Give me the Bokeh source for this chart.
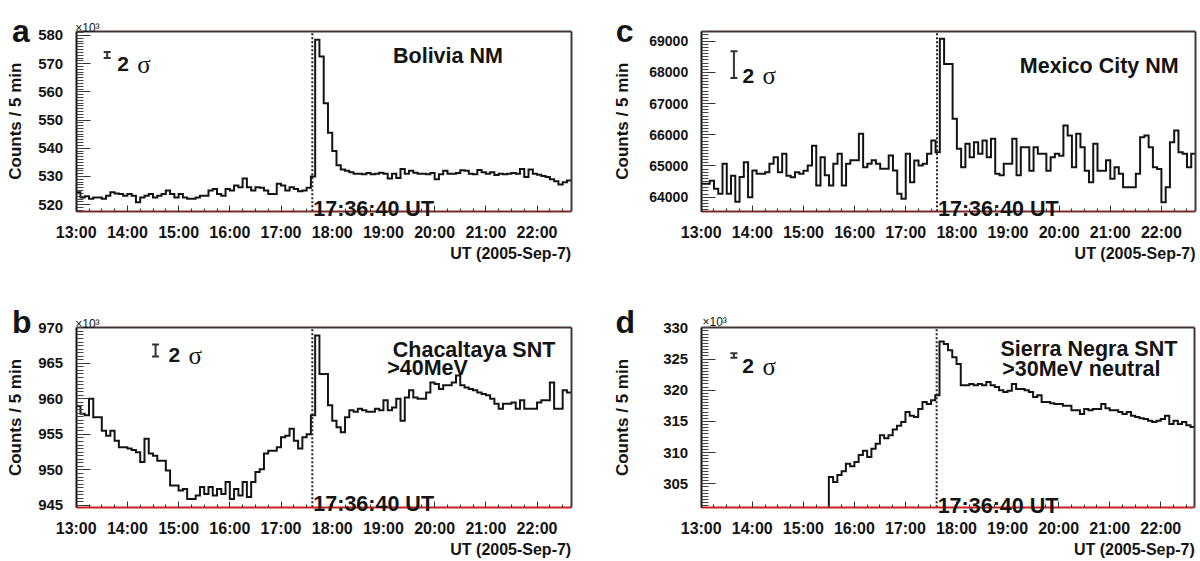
import numpy as np
from bokeh.plotting import figure
from bokeh.layouts import gridplot
from bokeh.models import (FixedTicker, Label, Whisker, ColumnDataSource,
                          TeeHead, LinearAxis, Range1d)
from bokeh.embed import file_html
from bokeh.resources import INLINE

# ---------------- data ----------------
t_start = 13.0                 # 13:00 UT
t_end = 22 + 40 / 60           # 22:40 UT
bin_minutes = 5
onset = 17 + 36 / 60 + 40 / 3600   # 17:36:40 UT

hour_ticks = list(range(13, 23))
hour_labels = ["13:00", "14:00", "15:00", "16:00", "17:00",
               "18:00", "19:00", "20:00", "21:00", "22:00"]
quarter_ticks = [13 + 0.25 * i for i in range(39)]

# Bolivia NM, counts / 5 min (x10^3)
bolivia = [
    524.4, 522.6, 523.0, 522.1, 522.6, 522.6, 522.1, 523.2, 524.4, 524.0, 523.8, 523.2,
    523.8, 523.2, 520.9, 522.6, 523.2, 523.8, 522.6, 523.2, 523.8, 525.0, 523.8, 522.6,
    523.8, 522.6, 522.1, 522.1, 522.6, 523.2, 523.2, 525.0, 525.6, 523.8, 523.2, 525.6,
    525.0, 526.8, 526.2, 529.3, 526.2, 525.0, 526.2, 526.0, 525.0, 523.8, 523.8, 527.4,
    526.8, 525.0, 526.2, 525.6, 524.8, 525.0, 526.0, 530.0,
    578.5, 572.5, 556.0, 545.5,
    539.0, 534.0, 532.5, 532.0, 531.5, 531.0, 531.0, 530.8, 531.2, 530.8, 531.0, 531.3,
    531.0, 529.3, 531.0, 529.5, 532.7, 531.0, 532.0, 531.3, 531.0, 531.0, 530.8, 531.2,
    529.0, 530.8, 532.0, 531.0, 531.0, 531.2, 532.2, 532.0, 531.0, 530.8, 532.3, 531.5,
    531.0, 531.5, 530.5, 531.0, 530.8, 531.0, 531.2, 531.0, 532.7, 529.8, 532.5, 531.0,
    530.6, 530.2, 529.8, 529.0, 528.3, 527.2, 528.0, 528.6,
]

# Mexico City NM, counts / 5 min
mexico = [
    64430, 64430, 64530, 64270, 64110, 65070, 64110, 64690, 63850, 64650, 65120, 64000,
    64855, 64750, 64750, 64800, 65070, 65280, 64800, 65390, 64690, 64640, 64800, 64750,
    64850, 65015, 65650, 64370, 65280, 64700, 64370, 65070, 65390, 64370, 65070, 65180,
    65180, 66030, 64960, 65070, 65180, 65070, 64910, 64910, 65335, 64855, 64107, 63947,
    65389, 64481, 65175, 65015, 65068, 65389, 65816, 65442,
    69075, 68270, 68270, 66510, 65550, 64960, 65710, 65280, 65760, 65390, 65820, 65280,
    65870, 64750, 64700, 65070, 65070, 65870, 64700, 65600, 65600, 64850, 65600, 65390,
    65390, 64850, 65280, 65390, 65330, 66300, 65980, 64960, 66030, 65600, 64850, 64480,
    65710, 64850, 64850, 65180, 64590, 64960, 64750, 64320, 64320, 64320, 64750, 65920,
    65980, 65600, 64960, 64900, 63840, 64320, 65760, 66140, 65440, 65390, 64960, 65390,
]

# Chacaltaya SNT >40 MeV, counts / 5 min (x10^3)
chacaltaya = [
    959.0, 957.9, 957.7, 960.0, 957.4, 957.4, 955.5, 954.8, 955.5, 954.1, 953.2, 953.2,
    953.0, 952.8, 952.5, 951.1, 954.4, 952.3, 952.0, 951.3, 951.3, 949.9, 947.8, 947.8,
    947.1, 947.3, 945.9, 945.9, 946.4, 947.6, 946.6, 947.6, 946.4, 947.3, 946.6, 948.3,
    945.9, 947.3, 946.4, 948.3, 946.2, 948.3, 949.7, 950.1, 952.3, 952.7, 952.7, 953.2,
    954.6, 954.8, 955.8, 954.1, 953.0, 954.6, 955.0, 957.7,
    968.9, 963.5, 963.5, 959.1, 956.9, 956.0, 955.3, 957.4, 958.4, 958.2, 958.6, 958.4,
    958.2, 958.2, 958.6, 958.4, 959.8, 958.4, 958.8, 960.0, 956.9, 960.2, 961.2, 960.2,
    960.0, 960.0, 960.9, 962.3, 962.1, 961.4, 961.9, 961.9, 962.3, 963.3, 961.9, 961.6,
    961.4, 961.2, 960.9, 960.7, 960.5, 960.0, 959.3, 958.6, 959.3, 959.3, 959.5, 958.6,
    959.8, 958.6, 958.6, 958.6, 959.5, 959.8, 959.8, 962.3, 958.6, 958.6, 961.2, 960.9,
]

# Sierra Negra SNT >30 MeV neutral, counts / 5 min (x10^3); empty bins before 15:30
sierra = [0.0] * 30 + [
    306.1, 305.3, 306.4, 307.0, 308.2, 307.8, 308.5, 309.6, 310.3, 309.3, 310.6, 311.4,
    312.8, 312.3, 312.8, 313.7, 314.3, 314.9, 316.5, 315.9, 315.7, 317.0, 318.1, 317.8,
    318.4, 319.2,
    327.8, 327.4, 326.4, 325.3, 324.2,
    320.8, 320.8, 321.0, 320.8, 321.0, 320.8, 321.3, 320.8, 320.5, 320.0, 319.7, 319.9,
    321.0, 320.2, 320.2, 320.0, 319.7, 318.9, 319.2, 318.1, 318.1, 317.9, 317.8, 317.8,
    317.5, 317.5, 316.8, 316.8, 316.2, 317.0, 316.8, 317.0, 317.0, 317.8, 317.1, 316.8,
    316.8, 316.5, 316.2, 316.5, 315.9, 315.7, 315.5, 315.4, 315.1, 314.9, 315.1, 315.4,
    315.9, 314.6, 315.1, 314.6, 314.9, 314.4, 314.1,
]

# 2-sigma error-bar markers: (time in h, centre, half-length) in data units
sigma_bolivia = (13.605, 573.1, 1.06)
sigma_mexico = (13.64, 68250.0, 427.0)
sigma_chacaltaya = (14.55, 966.8, 0.85)
sigma_sierra = (13.64, 325.56, 0.37)

FONT = "Liberation Sans"
SERIF = "Liberation Serif"
INK = "#141414"
BROWN = "#7a2c2c"
RED = "#cc1f1f"
FRAME = "#463434"


def histogram_outline(vals, edges, floor):
    """Outline of a histogram; empty bins are not drawn, the first filled
    bin after empty ones rises from the lower axis."""
    xs, ys = [], []
    for i, v in enumerate(vals):
        if v <= 0:
            continue
        if not xs and i > 0:
            xs.append(edges[i])
            ys.append(floor)
        xs += [edges[i], edges[i + 1]]
        ys += [v, v]
    return xs, ys


def build(cfg):
    ox, oy, W, H = cfg["fig"]          # page position / size of the figure
    L, R, T, B = cfg["box"]            # page position of the plotting box
    y0, y1 = cfg["yrange"]
    kx = (t_end - t_start) / (R - L)
    ky = (y1 - y0) / (B - T)
    xr = Range1d(t_start - (L - ox) * kx, t_end + (ox + W - R) * kx)
    yr = Range1d(y0 - (oy + H - B) * ky, y1 + (T - oy) * ky)
    p = figure(width=W, height=H, x_range=xr, y_range=yr, title=None,
               output_backend="svg", toolbar_location=None, min_border=0)
    p.outline_line_color = None
    for g in p.grid:
        g.visible = False
    p.background_fill_color = "white"
    p.border_fill_color = "white"

    def pos(px, py):
        return px - ox, (oy + H) - py

    def text(px, py, s, size, bold=True, align="left", baseline="alphabetic",
             font=FONT, angle=0.0):
        x, y = pos(px, py)
        p.add_layout(Label(x=x, y=y, x_units="screen", y_units="screen", text=s,
                           text_font=font, text_font_size=f"{size}px",
                           text_font_style="bold" if bold else "normal",
                           text_align=align, text_baseline=baseline, angle=angle,
                           text_color=INK))

    vals = np.asarray(cfg["values"], dtype=float)
    edges = t_start + np.arange(len(vals) + 1) * bin_minutes / 60.0
    hx, hy = histogram_outline(vals, edges, y0)
    p.line(hx, hy, line_color=INK, line_width=2, line_join="miter")

    p.segment(x0=[onset], y0=[y0], x1=[onset], y1=[y1], line_color="#222222",
              line_width=2, line_dash="2 2")

    sx, sc, sh = cfg["sigma"]
    src = ColumnDataSource(dict(x=[sx], lo=[sc - sh], hi=[sc + sh]))
    p.add_layout(Whisker(source=src, base="x", lower="lo", upper="hi",
                         dimension="height", line_color="#333333", line_width=2,
                         lower_head=TeeHead(size=7, line_color="#333333", line_width=2),
                         upper_head=TeeHead(size=7, line_color="#333333", line_width=2)))

    xa = p.xaxis[0]
    xa.fixed_location = y0
    xa.bounds = (t_start, t_end)
    xa.ticker = FixedTicker(ticks=hour_ticks, minor_ticks=quarter_ticks)
    xa.major_label_overrides = dict(zip(hour_ticks, hour_labels))
    xa.major_label_text_font = FONT
    xa.major_label_text_font_size = "16px"
    xa.major_label_text_font_style = "bold"
    xa.major_label_text_color = INK
    xa.major_label_standoff = 13
    xa.major_tick_in, xa.major_tick_out = 6, 0
    xa.minor_tick_in, xa.minor_tick_out = 3, 0
    xa.major_tick_line_color = "#333333"
    xa.minor_tick_line_color = "#333333"
    xa.axis_line_color = cfg["bottom_color"]
    xa.axis_line_width = 2

    ya = p.yaxis[0]
    ya.fixed_location = t_start
    ya.bounds = (y0, y1)
    ya.ticker = FixedTicker(ticks=cfg["yticks"], minor_ticks=cfg["yminor"])
    ya.major_label_text_font = FONT
    ya.major_label_text_font_size = f"{cfg['ylab_px']}px"
    ya.major_label_text_font_style = "bold"
    ya.major_label_text_color = INK
    ya.major_label_standoff = 13
    ya.major_tick_in, ya.major_tick_out = 14, 0
    ya.minor_tick_in, ya.minor_tick_out = 7, 0
    ya.major_tick_line_color = "#333333"
    ya.minor_tick_line_color = "#444444"
    ya.axis_line_color = INK
    ya.axis_line_width = 2

    top = LinearAxis(fixed_location=y1, bounds=(t_start, t_end),
                     ticker=FixedTicker(ticks=[]), major_tick_in=0, major_tick_out=0,
                     minor_tick_in=0, minor_tick_out=0, major_label_text_font_size="0px",
                     axis_line_color=FRAME, axis_line_width=2)
    p.add_layout(top, "above")
    right = LinearAxis(fixed_location=t_end, bounds=(y0, y1),
                       ticker=FixedTicker(ticks=[]), major_tick_in=0, major_tick_out=0,
                       minor_tick_in=0, minor_tick_out=0, major_label_text_font_size="0px",
                       axis_line_color=FRAME, axis_line_width=2)
    p.add_layout(right, "right")

    # texts (page coordinates measured on the reference)
    lx, ly = cfg["letter_at"]
    text(lx, ly, cfg["letter"], 32)
    if cfg["x10_at"] is not None:
        text(cfg["x10_at"][0], cfg["x10_at"][1], "×10³", 12, bold=False)
    cx = cfg["counts_x"]
    text(cx, (T + B) / 2, "Counts / 5 min", 17, align="center", baseline="middle",
         angle=np.pi / 2)
    s2x, sgx, sy = cfg["sigma_text"]
    text(s2x, sy, "2", 21)
    text(sgx, sy, "σ", 25, bold=False, font=SERIF)
    for (tx, ty, s) in cfg["station"]:
        text(tx, ty, s, 21.5)
    _, oyl = pos(0, cfg["onset_base"])
    p.add_layout(Label(x=onset, y=oyl, x_units="data", y_units="screen", x_offset=1,
                       text="17:36:40 UT", text_font=FONT, text_font_size="21.5px",
                       text_font_style="bold", text_align="left",
                       text_baseline="alphabetic", text_color=INK))
    text(R, B + 42, "UT (2005-Sep-7)", 16, align="right", baseline="middle")
    return p


TOP_H, BOT_H = 264, 296
LEFT_W, RIGHT_W = 600, 599

pa = build(dict(values=bolivia, yrange=(517.7, 581.5),
                yticks=[520, 530, 540, 550, 560, 570, 580],
                yminor=list(range(518, 582)), ylab_px=15,
                fig=(0, 0, LEFT_W, TOP_H), box=(75.7, 570.7, 30.7, 210.7),
                bottom_color=BROWN, sigma=sigma_bolivia,
                letter="a", letter_at=(11.5, 30.5), x10_at=(74.7, 27.0), counts_x=15.3,
                sigma_text=(116.7, 136.7, 63.5),
                station=[(392.5, 55.8, "Bolivia NM")], onset_base=208.0))

pc = build(dict(values=mexico, yrange=(63550, 69320),
                yticks=[64000, 65000, 66000, 67000, 68000, 69000],
                yminor=list(range(63600, 69400, 100)), ylab_px=14,
                fig=(LEFT_W, 0, RIGHT_W, TOP_H), box=(700.7, 1195.0, 30.7, 210.7),
                bottom_color=BROWN, sigma=sigma_mexico,
                letter="c", letter_at=(615.3, 30.5), x10_at=None, counts_x=622.0,
                sigma_text=(742.0, 762.0, 75.0),
                station=[(1019.3, 65.0, "Mexico City NM")], onset_base=208.0))

pb = build(dict(values=chacaltaya, yrange=(944.75, 970.0),
                yticks=[945, 950, 955, 960, 965, 970],
                yminor=[945 + 0.5 * i for i in range(51)], ylab_px=15,
                fig=(0, TOP_H, LEFT_W, BOT_H), box=(75.7, 570.7, 327.3, 506.7),
                bottom_color=RED, sigma=sigma_chacaltaya,
                letter="b", letter_at=(11.5, 321.7), x10_at=(74.7, 323.0), counts_x=15.3,
                sigma_text=(168.0, 188.0, 354.5),
                station=[(392.3, 349.2, "Chacaltaya SNT"), (386.7, 367.5, ">40MeV")],
                onset_base=503.5))

pd_ = build(dict(values=sierra, yrange=(301.25, 330.0),
                 yticks=[305, 310, 315, 320, 325, 330],
                 yminor=[301.5 + 0.5 * i for i in range(58)], ylab_px=15,
                 fig=(LEFT_W, TOP_H, RIGHT_W, BOT_H), box=(700.7, 1194.3, 327.3, 506.7),
                 bottom_color=RED, sigma=sigma_sierra,
                 letter="d", letter_at=(615.0, 321.7), x10_at=(702.0, 321.7), counts_x=622.0,
                 sigma_text=(741.7, 762.0, 365.5),
                 station=[(1000.0, 348.5, "Sierra Negra SNT"),
                          (1001.7, 368.5, ">30MeV neutral")],
                 onset_base=505.0))

grid = gridplot([[pa, pc], [pb, pd_]], toolbar_location=None)

with open("out.html", "w") as f:
    f.write(file_html(grid, INLINE, "Neutron monitor counts 2005-09-07"))
